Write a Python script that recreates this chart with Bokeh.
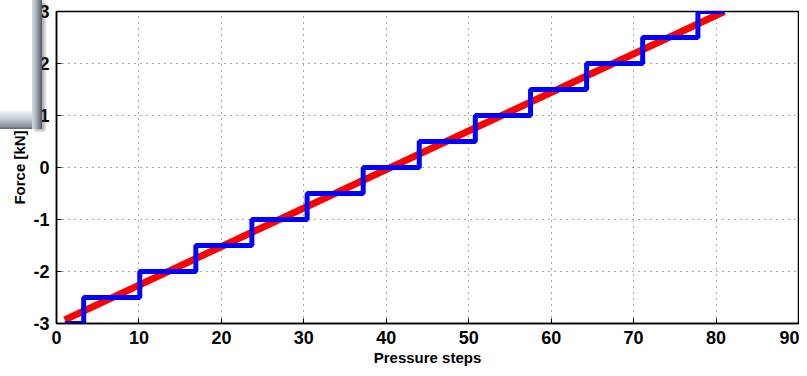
from bokeh.plotting import figure
from bokeh.models import FixedTicker, Div
from bokeh.layouts import row
from bokeh.embed import file_html
from bokeh.resources import INLINE

# data
step_x = [1, 3.3, 10.1, 16.9, 23.7, 30.4, 37.2, 44.0, 50.8, 57.5, 64.3, 71.1, 77.8, 81]
step_y = [-3, -2.5, -2, -1.5, -1, -0.5, 0, 0.5, 1, 1.5, 2, 2.5, 3, 3]
line_x = [1, 81]
line_y = [-2.93, 3.0]
x_ticks = [0, 10, 20, 30, 40, 50, 60, 70, 80, 90]
y_ticks = [-3, -2, -1, 0, 1, 2, 3]
y_tick_labels = ["-3", "-2", "-1", "0", "1", "2", "3"]

FONT = "'Liberation Sans Narrow', 'Arial Narrow', 'Liberation Sans', sans-serif"

p = figure(width=799, height=368, output_backend="svg", toolbar_location=None,
           x_range=(0, 90), y_range=(-3, 3),
           min_border_left=56, min_border_right=1, min_border_top=11, min_border_bottom=45)
p.background_fill_color = "white"
p.border_fill_color = "white"
p.outline_line_color = "black"
p.outline_line_width = 1.5

p.line(line_x, line_y, line_color="#ff0000", line_width=7)
p.step(step_x, step_y, mode="after", line_color="#0000ff", line_width=5)

for ax in (p.xaxis[0], p.yaxis[0]):
    ax.axis_line_color = "black"
    ax.axis_line_width = 1.5
    ax.major_tick_in = 5
    ax.major_tick_out = 0
    ax.minor_tick_in = 0
    ax.minor_tick_out = 0
    ax.major_tick_line_color = "black"
    ax.major_label_text_font = FONT
    ax.major_label_text_font_style = "bold"
    ax.major_label_text_font_size = "18px"
    ax.major_label_text_color = "black"
    ax.axis_label_text_font = FONT
    ax.axis_label_text_font_style = "bold"
    ax.axis_label_text_font_size = "15px"
    ax.axis_label_text_color = "black"

p.xaxis.ticker = FixedTicker(ticks=x_ticks)
p.yaxis.ticker = FixedTicker(ticks=y_ticks)
p.yaxis.major_label_overrides = {t: s for t, s in zip(y_ticks, y_tick_labels)}
p.xaxis.axis_label = "Pressure steps"
p.yaxis.axis_label = "Force [kN]"
p.xaxis.major_label_standoff = 7
p.yaxis.major_label_standoff = 7
p.xaxis.axis_label_standoff = 2
p.yaxis.axis_label_standoff = 2

p.xgrid.ticker = FixedTicker(ticks=x_ticks)
p.ygrid.ticker = FixedTicker(ticks=y_ticks)
for g in (p.xgrid, p.ygrid):
    g.grid_line_color = "#555555"
    g.grid_line_dash = "1 5"
    g.grid_line_width = 1

overlay_html = (
    '<div style="position:fixed;left:0px;top:0px;width:34px;height:114px;background:#ffffff;z-index:10;"></div>'
    '<div style="position:fixed;left:0px;top:111px;width:42px;height:18px;z-index:11;'
    'background:linear-gradient(to bottom,#eef2f6 0%,#c4cbd3 45%,#8e959e 85%,#5d646c 100%);"></div>'
    '<div style="position:fixed;left:32px;top:0px;width:10px;height:129px;z-index:12;'
    'background:linear-gradient(to right,#d6dbe1 0%,#a8b0ba 40%,#767e88 75%,#50565e 100%);'
    'box-shadow:3px 2px 3px rgba(80,80,80,0.45);"></div>'
)
overlay = Div(text=overlay_html, width=1, height=1)

layout = row(p, overlay)
open("out.html", "w").write(file_html(layout, INLINE))
